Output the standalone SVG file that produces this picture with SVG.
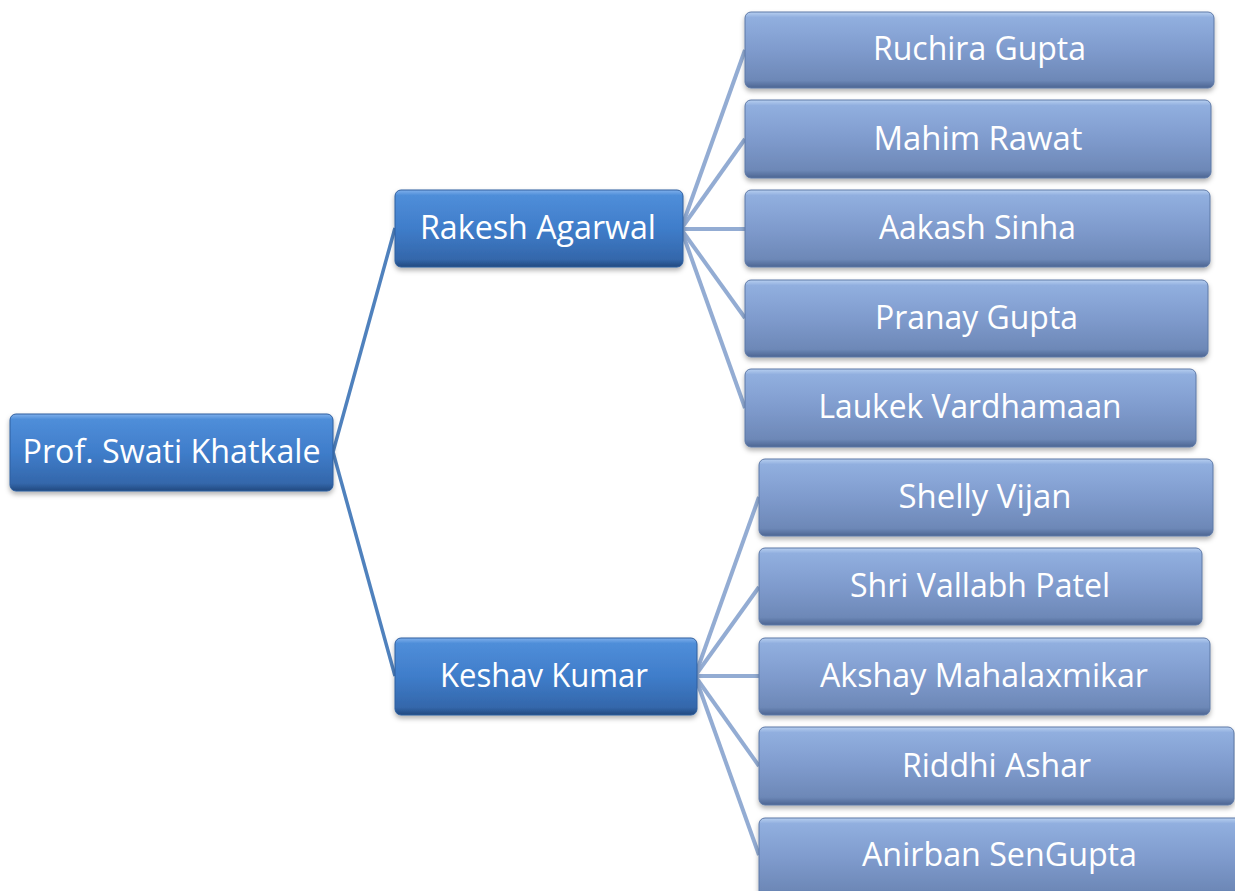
<svg xmlns="http://www.w3.org/2000/svg" width="1235" height="891" viewBox="0 0 1235 891">
<defs>
<linearGradient id="gDark" x1="0" y1="0" x2="0" y2="1">
<stop offset="0" stop-color="#7fb0ec"/>
<stop offset="0.07" stop-color="#4f8ed9"/>
<stop offset="0.5" stop-color="#3f7dca"/>
<stop offset="0.9" stop-color="#3467ab"/>
<stop offset="1" stop-color="#22497f"/>
</linearGradient>
<linearGradient id="gLight" x1="0" y1="0" x2="0" y2="1">
<stop offset="0" stop-color="#b7cff0"/>
<stop offset="0.07" stop-color="#91afdf"/>
<stop offset="0.5" stop-color="#7f9bcd"/>
<stop offset="0.9" stop-color="#6d88b7"/>
<stop offset="1" stop-color="#4c6592"/>
</linearGradient>
<filter id="sh" x="-5%" y="-10%" width="110%" height="130%">
<feDropShadow dx="0" dy="3" stdDeviation="2.5" flood-color="#000" flood-opacity="0.3"/>
</filter>
</defs>
<style>
.dark{fill:url(#gDark);stroke:#2e5e9e;stroke-width:1;filter:url(#sh)}
.light{fill:url(#gLight);stroke:#5d78a6;stroke-width:1;filter:url(#sh)}
.t{fill:#fff;font-family:"Open Sans","Noto Sans",sans-serif;font-size:32px;text-anchor:middle}
.c1{stroke:#4f81bd;stroke-width:3.5;fill:none}
.c2{stroke:#93acd3;stroke-width:4;fill:none}
</style>
<g id="connectors">
<line class="c1" x1="333" y1="452" x2="395" y2="228"/>
<line class="c1" x1="333" y1="452" x2="395" y2="676"/>
<line class="c2" x1="681" y1="229" x2="745" y2="50"/>
<line class="c2" x1="681" y1="229" x2="745" y2="139"/>
<line class="c2" x1="681" y1="229" x2="745" y2="229"/>
<line class="c2" x1="681" y1="229" x2="745" y2="318"/>
<line class="c2" x1="681" y1="229" x2="745" y2="408"/>
<line class="c2" x1="695" y1="676" x2="759" y2="497"/>
<line class="c2" x1="695" y1="676" x2="759" y2="587"/>
<line class="c2" x1="695" y1="676" x2="759" y2="676"/>
<line class="c2" x1="695" y1="676" x2="759" y2="766"/>
<line class="c2" x1="695" y1="676" x2="759" y2="855"/>
</g>
<g id="root"><rect class="dark" x="10" y="414" width="323" height="77" rx="6"/><text class="t" x="171.5" y="463" textLength="298" lengthAdjust="spacingAndGlyphs">Prof. Swati Khatkale</text></g>
<g id="rakesh"><rect class="dark" x="395" y="190" width="288" height="77" rx="6"/><text class="t" x="538" y="239" textLength="236" lengthAdjust="spacingAndGlyphs">Rakesh Agarwal</text></g>
<g id="keshav"><rect class="dark" x="395" y="638" width="302" height="77" rx="6"/><text class="t" x="544" y="687" textLength="208" lengthAdjust="spacingAndGlyphs">Keshav Kumar</text></g>
<g id="ruchira"><rect class="light" x="745" y="12" width="469" height="76" rx="6"/><text class="t" x="979.5" y="60" textLength="213" lengthAdjust="spacingAndGlyphs">Ruchira Gupta</text></g>
<g id="mahim"><rect class="light" x="745" y="100" width="466" height="78" rx="6"/><text class="t" x="978" y="150" textLength="209" lengthAdjust="spacingAndGlyphs">Mahim Rawat</text></g>
<g id="aakash"><rect class="light" x="745" y="190" width="465" height="77" rx="6"/><text class="t" x="977.5" y="239" textLength="197" lengthAdjust="spacingAndGlyphs">Aakash Sinha</text></g>
<g id="pranay"><rect class="light" x="745" y="280" width="463" height="77" rx="6"/><text class="t" x="976.5" y="329" textLength="203" lengthAdjust="spacingAndGlyphs">Pranay Gupta</text></g>
<g id="laukek"><rect class="light" x="745" y="369" width="451" height="78" rx="6"/><text class="t" x="970" y="418" textLength="303" lengthAdjust="spacingAndGlyphs">Laukek Vardhamaan</text></g>
<g id="shelly"><rect class="light" x="759" y="459" width="454" height="77" rx="6"/><text class="t" x="985" y="508" textLength="173" lengthAdjust="spacingAndGlyphs">Shelly Vijan</text></g>
<g id="shri"><rect class="light" x="759" y="548" width="443" height="77" rx="6"/><text class="t" x="980" y="597" textLength="260" lengthAdjust="spacingAndGlyphs">Shri Vallabh Patel</text></g>
<g id="akshay"><rect class="light" x="759" y="638" width="451" height="77" rx="6"/><text class="t" x="984" y="687" textLength="328" lengthAdjust="spacingAndGlyphs">Akshay Mahalaxmikar</text></g>
<g id="riddhi"><rect class="light" x="759" y="727" width="475" height="78" rx="6"/><text class="t" x="996.5" y="777" textLength="189" lengthAdjust="spacingAndGlyphs">Riddhi Ashar</text></g>
<g id="anirban"><rect class="light" x="759" y="818" width="484" height="80" rx="6"/><text class="t" x="999.5" y="866" textLength="275" lengthAdjust="spacingAndGlyphs">Anirban SenGupta</text></g>
</svg>
